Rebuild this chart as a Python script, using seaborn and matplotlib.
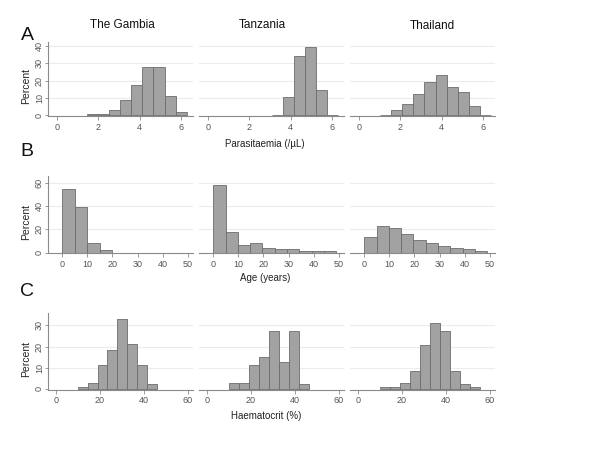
import numpy as np
import pandas as pd
import matplotlib
matplotlib.use("Agg")
import matplotlib.pyplot as plt
import seaborn as sns

sns.set_style("white")
plt.rcParams['font.family'] = ['Liberation Sans', 'DejaVu Sans']

countries = ["The Gambia", "Tanzania", "Thailand"]
row_letters = ["A", "B", "C"]
x_labels = ["Parasitaemia (/\u00b5L)", "Age (years)", "Haematocrit (%)"]

# ---- Parasitaemia (log10 /uL) ----
para_edges_gambia = [1.45, 1.99, 2.52, 3.06, 3.59, 4.13, 4.66, 5.20, 5.73, 6.27]
para_pct_gambia = [1.1, 1.1, 3.0, 8.8, 17.3, 27.8, 27.8, 11.4, 1.9]
para_edges_tanzania = [3.08, 3.61, 4.15, 4.68, 5.22, 5.75, 6.29]
para_pct_tanzania = [0.3, 10.6, 34.5, 39.5, 14.8, 0.3]
para_edges_thailand = [1.00, 1.54, 2.08, 2.62, 3.16, 3.70, 4.24, 4.78, 5.32, 5.86, 6.40]
para_pct_thailand = [0.3, 3.0, 6.4, 12.1, 19.1, 23.3, 16.3, 13.8, 5.3, 0.3]

# ---- Age (years) ----
age_edges_gambia = [0, 5, 10, 15, 20]
age_pct_gambia = [54.8, 39.2, 7.8, 1.8]
age_edges_tanzania = [0, 4.9, 9.8, 14.7, 19.6, 24.5, 29.4, 34.3, 39.2, 44.1, 49.0]
age_pct_tanzania = [58.0, 17.4, 6.7, 7.8, 4.3, 2.6, 2.6, 1.5, 1.5, 1.5]
age_edges_thailand = [0, 4.9, 9.8, 14.7, 19.6, 24.5, 29.4, 34.3, 39.2, 44.1, 49.0]
age_pct_thailand = [13.3, 22.6, 21.1, 15.6, 10.4, 7.8, 5.2, 4.3, 2.6, 1.7]

# ---- Haematocrit (%) ----
hct_edges_gambia = [10.0, 14.5, 19.0, 23.5, 28.0, 32.5, 37.0, 41.5, 46.0]
hct_pct_gambia = [0.9, 2.8, 11.2, 18.4, 33.0, 21.2, 11.2, 2.2]
hct_edges_tanzania = [10.1, 14.67, 19.24, 23.81, 28.38, 32.95, 37.52, 42.09, 46.66]
hct_pct_tanzania = [2.8, 2.8, 11.2, 14.9, 27.5, 12.7, 27.5, 2.2]
hct_edges_thailand = [10.2, 14.76, 19.32, 23.88, 28.44, 33.0, 37.56, 42.12, 46.68, 51.24, 55.8]
hct_pct_thailand = [0.9, 0.9, 2.8, 8.6, 20.6, 31.1, 27.5, 8.6, 2.2, 0.9]

x_ticks = [[0, 2, 4, 6], [0, 10, 20, 30, 40, 50], [0, 20, 40, 60]]
y_ticks = [[0, 10, 20, 30, 40], [0, 20, 40, 60], [0, 10, 20, 30]]

rows = [
    [(para_edges_gambia, para_pct_gambia), (para_edges_tanzania, para_pct_tanzania), (para_edges_thailand, para_pct_thailand)],
    [(age_edges_gambia, age_pct_gambia), (age_edges_tanzania, age_pct_tanzania), (age_edges_thailand, age_pct_thailand)],
    [(hct_edges_gambia, hct_pct_gambia), (hct_edges_tanzania, hct_pct_tanzania), (hct_edges_thailand, hct_pct_thailand)],
]

# layout (pixels)
W, H = 600, 450
col_left = [48, 199, 350]
col_w = 145
row_top = [42, 176, 313]
row_bot = [116, 253, 389.5]
xlims = [(-0.435, 6.57), (-5.66, 52.1), (-3.5, 62.4)]
ylims = [(-0.3, 42.3), (-0.4, 65.6), (-0.25, 35.8)]

fill = "#a2a2a2"
edge = "#6c6c6c"
axis_col = "#8a8a8a"
tick_col = "#555555"

fig = plt.figure(figsize=(6, 4.5), dpi=100)
for r in range(3):
    for c in range(3):
        ax = fig.add_axes([col_left[c] / W, 1 - row_bot[r] / H, col_w / W, (row_bot[r] - row_top[r]) / H])
        edges, pct = rows[r][c]
        edges_list = [float(e) for e in edges]
        centers = [(a + b) / 2 for a, b in zip(edges_list[:-1], edges_list[1:])]
        df = pd.DataFrame({"x": centers, "w": list(pct)})
        sns.histplot(data=df, x="x", weights="w", bins=edges_list, stat="count", ax=ax,
                     color=fill, edgecolor=edge, linewidth=0.6, alpha=1)
        ax.set_xlim(*xlims[r])
        ax.set_ylim(*ylims[r])
        for yv in y_ticks[r][1:]:
            ax.axhline(yv, color="#ececec", lw=0.8, zorder=0)
        ax.set_xlabel("")
        ax.set_ylabel("")
        ax.set_xticks(x_ticks[r])
        ax.tick_params(axis="x", length=3, width=0.6, color=axis_col, labelsize=6.5,
                       labelcolor=tick_col, pad=2, direction="out", bottom=True)
        for s in ["top", "right"]:
            ax.spines[s].set_visible(False)
        ax.spines["bottom"].set_color(axis_col)
        ax.spines["bottom"].set_linewidth(0.8)
        ax.set_yticks(y_ticks[r])
        if c == 0:
            ax.tick_params(axis="y", length=2.5, width=0.6, color=axis_col, labelsize=6.5,
                           labelcolor=tick_col, pad=0.5, direction="out", left=True)
            for lab in ax.get_yticklabels():
                lab.set_rotation(90)
                lab.set_va("center")
            ax.spines["left"].set_color(axis_col)
            ax.spines["left"].set_linewidth(0.8)
        else:
            ax.tick_params(axis="y", left=False, labelleft=False)
            ax.spines["left"].set_visible(False)
        ax.set_axisbelow(True)

def ftext(x, y, s, **kw):
    fig.text(x / W, 1 - y / H, s, ha="center", va="center", **kw)

title_pos = [(122, 25), (262, 25), (432, 26)]
for (x, y), name in zip(title_pos, countries):
    ftext(x, y, name, fontsize=8.5, color="#111111")

letter_pos = [(27, 36), (27, 151), (27, 291)]
for (x, y), L in zip(letter_pos, row_letters):
    ftext(x, y, L, fontsize=14, color="#111111")

xlab_pos = [(265, 144), (265, 278), (266, 416)]
for (x, y), L in zip(xlab_pos, x_labels):
    ftext(x, y, L, fontsize=7, color="#222222")

perc_pos = [(26, 86.5), (26, 221.5), (26, 359)]
for (x, y) in perc_pos:
    ftext(x, y, "Percent", fontsize=7.5, color="#222222", rotation=90)

fig.savefig("out.png", dpi=100, facecolor="white")
